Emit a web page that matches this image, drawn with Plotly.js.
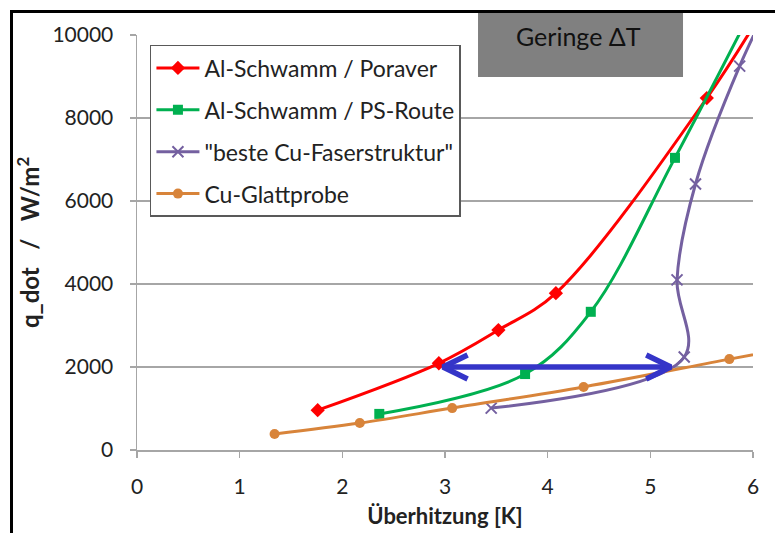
<!DOCTYPE html>
<html>
<head>
<meta charset="utf-8">
<script src="https://cdn.plot.ly/plotly-3.0.1.min.js"></script>
<style>
  html, body { margin: 0; padding: 0; background: #fff; }
  #wrap { position: relative; width: 775px; height: 533px; overflow: hidden; }
  #chart { position: absolute; left: 0; top: 0; width: 775px; height: 533px; }
  #frame { position: absolute; left: 10px; top: 10px; width: 800px; height: 600px;
           border-left: 3px solid #000; border-top: 3px solid #000; pointer-events: none; }
</style>
</head>
<body>
<div id="wrap">
  <div id="chart"></div>
  <div id="frame"></div>
</div>
<script>
// ---- data ----
const seriesNames = ["Al-Schwamm / Poraver", "Al-Schwamm / PS-Route", "\"beste Cu-Faserstruktur\"", "Cu-Glattprobe"];

const poraverX = [1.76, 2.94, 3.52, 4.08, 5.55, 6.22];
const poraverY = [960, 2090, 2890, 3780, 8480, 11100];

const psRouteX = [2.36, 3.78, 4.42, 5.24, 6.09];
const psRouteY = [870, 1830, 3330, 7040, 11100];

const cuFaserX = [3.45, 5.33, 5.26, 5.44, 5.87, 6.21];
const cuFaserY = [1010, 2240, 4100, 6410, 9250, 11000];

const cuGlattX = [1.34, 2.17, 3.07, 4.35, 5.77, 6.5];
const cuGlattY = [385, 650, 1010, 1520, 2190, 2530];

// double arrow (ΔT marker)
const arrowFrom = [2.98, 2000];
const arrowTo = [5.20, 2000];
const arrowHeadDx = 0.24;
const arrowHeadDy = 290;

const xTicks = [0, 1, 2, 3, 4, 5, 6];
const yTicks = [0, 2000, 4000, 6000, 8000, 10000];

const boxLabel = "Geringe \u0394T";
const xTitle = "Überhitzung [K]";
const yTitle = "q_dot\u00a0\u00a0\u00a0/\u00a0\u00a0\u00a0W/m<sup>2</sup>";

// ---- styles ----
const FONT = "Lato, 'Open Sans', sans-serif";
const TXT = "#222";
const colors = ["#FF0000", "#00B050", "#7460A0", "#D8843A"];
const symbols = ["diamond", "square", "x-thin-open", "circle"];
const xs = [poraverX, psRouteX, cuFaserX, cuGlattX];
const ys = [poraverY, psRouteY, cuFaserY, cuGlattY];

const traces = seriesNames.map((name, i) => ({
  type: "scatter",
  mode: "lines+markers",
  name: name,
  x: xs[i],
  y: ys[i],
  legendgroup: "g" + i,
  line: { color: colors[i], width: 3, shape: "spline", smoothing: 1 },
  marker: {
    symbol: symbols[i],
    size: i === 2 ? 11 : (i === 0 ? 11 : 10),
    color: colors[i],
    line: { color: colors[i], width: i === 2 ? 2 : 0 }
  }
}));

// arrow trace
const ax = [], ay = [];
ax.push(arrowFrom[0] + arrowHeadDx, arrowFrom[0], arrowFrom[0] + arrowHeadDx, null);
ay.push(arrowFrom[1] + arrowHeadDy, arrowFrom[1], arrowFrom[1] - arrowHeadDy, null);
ax.push(arrowFrom[0], arrowTo[0], null);
ay.push(arrowFrom[1], arrowTo[1], null);
ax.push(arrowTo[0] - arrowHeadDx, arrowTo[0], arrowTo[0] - arrowHeadDx);
ay.push(arrowTo[1] + arrowHeadDy, arrowTo[1], arrowTo[1] - arrowHeadDy);
traces.push({
  type: "scatter", mode: "lines", x: ax, y: ay, showlegend: false, hoverinfo: "skip",
  line: { color: "#3535C8", width: 5.5 }
});

const layout = {
  width: 775, height: 533,
  margin: { l: 137, r: 22, t: 35, b: 83 },
  paper_bgcolor: "#fff", plot_bgcolor: "#fff",
  font: { family: FONT, size: 20, color: TXT },
  showlegend: true,
  legend: {
    x: 0.021, y: 0.976, xanchor: "left", yanchor: "top",
    bgcolor: "#fff", bordercolor: "#595959", borderwidth: 1.5,
    font: { family: FONT, size: 23, color: TXT },
    traceorder: "grouped", tracegroupgap: 9, itemwidth: 43
  },
  xaxis: {
    range: [0, 6], tickvals: xTicks, ticktext: xTicks.map(String),
    showgrid: false, zeroline: false,
    showline: true, linecolor: "#a6a6a6", linewidth: 1.5,
    ticks: "outside", ticklen: 6, tickcolor: "#a6a6a6", tickwidth: 1.5,
    tickfont: { family: FONT, size: 21, color: TXT },
    ticklabelstandoff: 11,
    title: { text: "<b>" + xTitle + "</b>", font: { family: FONT, size: 22, color: TXT }, standoff: 12 },
    automargin: false
  },
  yaxis: {
    range: [0, 10000], tickvals: yTicks, ticktext: yTicks.map(String),
    showgrid: true, gridcolor: "#a6a6a6", gridwidth: 1.3, zeroline: false,
    showline: true, linecolor: "#a6a6a6", linewidth: 1.5,
    ticks: "outside", ticklen: 6, tickcolor: "#a6a6a6", tickwidth: 1.5,
    tickfont: { family: FONT, size: 21, color: TXT },
    ticklabelstandoff: 12,
    title: { text: "<b>" + yTitle + "</b>", font: { family: FONT, size: 24, color: TXT }, standoff: 6 },
    automargin: false
  },
  shapes: [{
    type: "rect", xref: "paper", yref: "paper", layer: "below",
    x0: 0.5536, x1: 0.8864, y0: 0.8988, y1: 1.0554,
    fillcolor: "#808080", line: { width: 0 }
  }],
  annotations: [{
    xref: "paper", yref: "paper", x: 0.7175, y: 0.998, showarrow: false,
    text: boxLabel, font: { family: FONT, size: 25, color: "#111" },
    xanchor: "center", yanchor: "middle"
  }]
};

Plotly.newPlot("chart", traces, layout, { displayModeBar: false, staticPlot: true });
</script>
</body>
</html>
